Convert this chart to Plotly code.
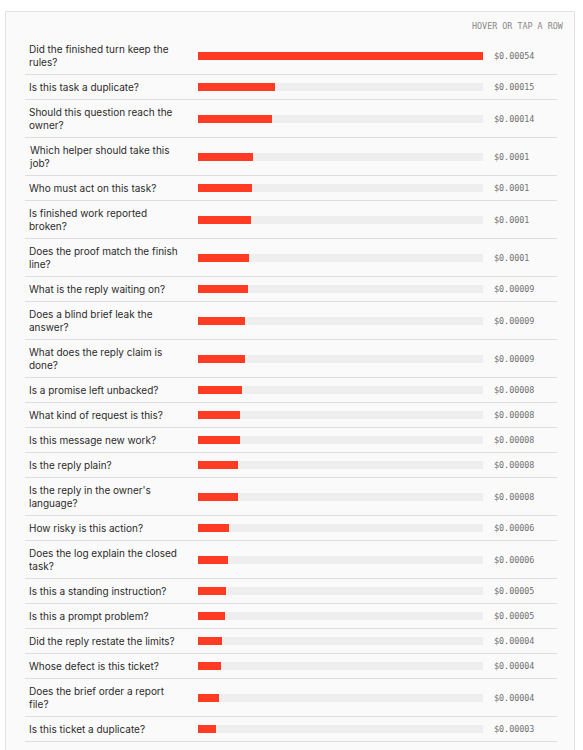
import plotly.graph_objects as go

# ---- data ----
questions = [
    "Did the finished turn keep the<br>rules?",
    "Is this task a duplicate?",
    "Should this question reach the<br>owner?",
    "Which helper should take this<br>job?",
    "Who must act on this task?",
    "Is finished work reported<br>broken?",
    "Does the proof match the finish<br>line?",
    "What is the reply waiting on?",
    "Does a blind brief leak the<br>answer?",
    "What does the reply claim is<br>done?",
    "Is a promise left unbacked?",
    "What kind of request is this?",
    "Is this message new work?",
    "Is the reply plain?",
    "Is the reply in the owner's<br>language?",
    "How risky is this action?",
    "Does the log explain the closed<br>task?",
    "Is this a standing instruction?",
    "Is this a prompt problem?",
    "Did the reply restate the limits?",
    "Whose defect is this ticket?",
    "Does the brief order a report<br>file?",
    "Is this ticket a duplicate?",
]
costs = [
    0.00054, 0.000146, 0.000140, 0.000104, 0.000102, 0.000100, 0.0000966,
    0.0000945, 0.0000893, 0.0000890, 0.0000835, 0.0000798, 0.0000796,
    0.0000762, 0.0000752, 0.0000588, 0.0000568, 0.0000531, 0.0000512,
    0.0000449, 0.0000436, 0.0000402, 0.0000342,
]
header_text = "HOVER OR TAP A ROW"

# ---- layout helpers ----
W, H = 583, 750
ROW_SINGLE = 25
LINE_H = 13
TOP = 37
BAR_COLOR = "#ff3b24"
TRACK_COLOR = "#eeeeee"

n_lines = [q.count("<br>") + 1 for q in questions]
heights = [ROW_SINGLE + LINE_H * (n - 1) for n in n_lines]
tops = []
t = TOP
for h in heights:
    tops.append(t)
    t += h
centers = [tp + (h - 1) / 2 for tp, h in zip(tops, heights)]
seps = [tp + h - 0.5 for tp, h in zip(tops, heights)]

vmax = max(costs)
value_text = ["$" + f"{v:.5f}".rstrip("0").rstrip(".") for v in costs]
plain_q = [q.replace("<br>", " ") for q in questions]

def px(x):
    return x / W

fig = go.Figure()
fig.add_trace(go.Bar(
    x=[vmax] * len(costs), y=centers, orientation="h", width=8,
    marker=dict(color=TRACK_COLOR, line=dict(width=0)),
    hoverinfo="skip", showlegend=False,
))
fig.add_trace(go.Bar(
    x=costs, y=centers, orientation="h", width=8,
    marker=dict(color=BAR_COLOR, line=dict(width=0)),
    customdata=list(zip(plain_q, value_text)),
    hovertemplate="%{customdata[0]}<br>%{customdata[1]}<extra></extra>",
    showlegend=False,
))

shapes = [dict(type="rect", xref="paper", yref="y", x0=px(5.5), x1=px(574.5),
               y0=11.5, y1=H + 20, fillcolor="#fafafa",
               line=dict(color="#e2e2e2", width=1), layer="below")]
for s in seps:
    shapes.append(dict(type="line", xref="paper", yref="y", x0=px(25), x1=px(557),
                       y0=s, y1=s, line=dict(color="#dedede", width=1), layer="below"))

annotations = [dict(text=header_text, xref="paper", yref="y", x=px(566), y=26,
                    xanchor="right", yanchor="middle", showarrow=False,
                    font=dict(family="DejaVu Sans Mono", size=8.4, color="#888888"))]
for q, c, v in zip(questions, centers, value_text):
    annotations.append(dict(text=q, xref="paper", yref="y", x=px(27), y=c,
                            xanchor="left", yanchor="middle", align="left",
                            showarrow=False,
                            font=dict(family="Inter", size=10, color="#2a2a2a")))
    annotations.append(dict(text=v, xref="paper", yref="y", x=px(492), y=c,
                            xanchor="left", yanchor="middle", showarrow=False,
                            font=dict(family="DejaVu Sans Mono", size=8.4, color="#707070")))

fig.update_layout(
    width=W, height=H, margin=dict(l=0, r=0, t=0, b=0),
    paper_bgcolor="#ffffff", plot_bgcolor="rgba(0,0,0,0)",
    barmode="overlay", bargap=0,
    xaxis=dict(domain=[px(198), px(483)], range=[0, vmax], visible=False,
               fixedrange=True),
    yaxis=dict(range=[H, 0], visible=False, fixedrange=True),
    shapes=shapes, annotations=annotations,
    hoverlabel=dict(font=dict(family="Inter", size=11)),
)

fig.write_html("out.html", config={"displayModeBar": False},
               post_script="document.body.style.margin='0';document.body.style.overflow='hidden';")
